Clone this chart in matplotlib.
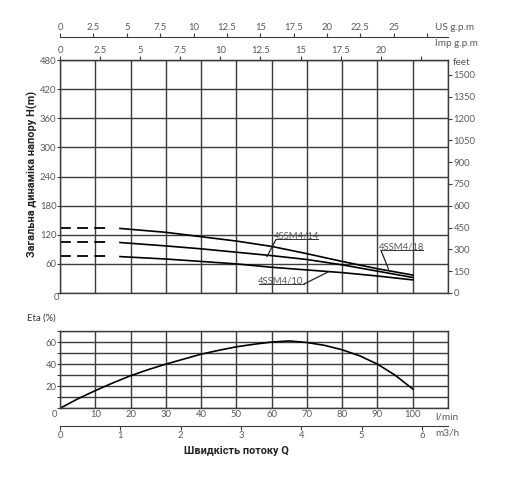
import matplotlib
matplotlib.use("Agg")
import matplotlib.pyplot as plt
import numpy as np

# ---- data ----
q_curve = [17, 30, 40, 50, 60, 70, 80, 90, 100]          # l/min
h_18 = [133, 125, 116, 107, 96, 81, 65, 50, 37]          # m
h_14 = [104, 97, 91, 84, 77, 69, 58, 45, 32]
h_10 = [75, 70, 65, 60, 53, 47.5, 42, 35, 27]
curve_names = ["4SSM4/18", "4SSM4/14", "4SSM4/10"]

q_eta = [0, 5, 10, 15, 20, 25, 30, 35, 40, 45, 50, 55, 60, 65, 70, 75, 80, 85, 90, 95, 100]
eta = [0, 8.5, 16, 23, 29.5, 35, 40, 44.5, 49, 52.5, 55.7, 58, 60, 61, 59.6, 57, 53, 47.5, 40, 30, 17.5]

h_ticks = [60, 120, 180, 240, 300, 360, 420, 480]
feet_ticks = [0, 150, 300, 450, 600, 750, 900, 1050, 1200, 1350, 1500]
us_ticks = [0, 2.5, 5, 7.5, 10, 12.5, 15, 17.5, 20, 22.5, 25, 27.5]
us_labels = ["0", "2.5", "5", "7.5", "10", "12.5", "15", "17.5", "20", "22.5", "25", ""]
imp_ticks = [0, 2.5, 5, 7.5, 10, 12.5, 15, 17.5, 20, 22.5]
imp_labels = ["0", "2.5", "5", "7.5", "10", "12.5", "15", "17.5", "20", ""]
lmin_ticks = [0, 10, 20, 30, 40, 50, 60, 70, 80, 90, 100, 110]
lmin_labels = ["", "10", "20", "30", "40", "50", "60", "70", "80", "90", "100", ""]
m3h_ticks = [0, 1, 2, 3, 4, 5, 6]
eta_ticks = [0, 10, 20, 30, 40, 50, 60, 70]
eta_labels = ["", "", "20", "", "40", "", "60", ""]

US_GPM = 3.785
IMP_GPM = 4.546
M3H = 17.1     # as drawn on the reference scale
FT = 3.34      # as drawn on the reference scale

W, H = 512, 486
GRID = "#3c3c3c"
TXT = "#5a5a5a"
FS = 6.8
FONT = "Lato"
BOLD = ["Roboto", "DejaVu Sans"]

plt.rcParams["font.family"] = [FONT, "DejaVu Sans"]

fig = plt.figure(figsize=(W / 100, H / 100), dpi=100)

def fx(px):
    return px / W

def fy(py):
    return 1 - py / H

ax = fig.add_axes([fx(60), fy(293), fx(388), 233 / H])
ax2 = fig.add_axes([fx(60), fy(408.3), fx(388), 77.3 / H])

for a in (ax, ax2):
    for s in a.spines.values():
        s.set_color(GRID)
        s.set_linewidth(1.0)

# ---- main head chart ----
ax.set_xlim(0, 110)
ax.set_ylim(0, 480)
ax.set_xticks(lmin_ticks)
ax.set_xticklabels([])
ax.tick_params(axis="x", length=0)
ax.set_yticks([0] + h_ticks)
ax.set_yticklabels([""] + [str(v) for v in h_ticks])
ax.tick_params(axis="y", length=2, width=0.8, color=GRID, pad=0.5, labelsize=FS, labelcolor=TXT)
ax.grid(True, color=GRID, linewidth=1.0)

for hv in (h_18, h_14, h_10):
    ax.plot([0, q_curve[0] - 2.5], [hv[0] + 1, hv[0] + 1], color="black", lw=1.3,
            dashes=(6, 3.5))
    ax.plot(q_curve, hv, color="black", lw=1.2)

axr = ax.twinx()
axr.set_ylim(0, 480 * FT)
axr.set_yticks(feet_ticks)
axr.tick_params(axis="y", length=3, width=0.8, color=GRID, pad=1, labelsize=FS, labelcolor=TXT)
for s in axr.spines.values():
    s.set_visible(False)

imp = ax.secondary_xaxis("top", functions=(lambda x: x / IMP_GPM, lambda x: x * IMP_GPM))
imp.set_xticks(imp_ticks)
imp.set_xticklabels(imp_labels)
imp.tick_params(length=3, width=0.8, color=GRID, pad=0.5, labelsize=FS, labelcolor=TXT)
imp.spines["top"].set_color(GRID)

us = ax.secondary_xaxis(1 + 23 / 233, functions=(lambda x: x / US_GPM, lambda x: x * US_GPM))
us.set_xticks(us_ticks)
us.set_xticklabels(us_labels)
us.tick_params(length=3, width=0.8, color=GRID, pad=0.5, labelsize=FS, labelcolor=TXT)
us.spines["top"].set_color(GRID)

fig.text(fx(435), fy(27.5), "US g.p.m", fontsize=FS + 0.4, color=TXT, ha="left", va="center")
fig.text(fx(435), fy(43.5), "Imp g.p.m", fontsize=FS + 0.4, color=TXT, ha="left", va="center")
fig.text(fx(453), fy(62.5), "feet", fontsize=FS + 0.4, color=TXT, ha="left", va="center")
fig.text(fx(56.5), fy(297), "0", fontsize=FS, color=TXT, ha="center", va="center")

fig.text(fx(32), fy(174), "Загальна динаміка напору H(m)", rotation=90, fontsize=7.9,
         fontweight="bold", color="#222222", ha="center", va="center", family=BOLD)

# curve labels with leaders (figure pixel positions)
lab = dict(fontsize=FS, color=TXT, ha="center", va="center")

def label(name, tx, ty, ux0, ux1, lx0, ly0, lx1, ly1):
    fig.text(fx(tx), fy(ty), name, **lab)
    fig.add_artist(plt.Line2D([fx(ux0), fx(ux1)], [fy(ty + 3.5), fy(ty + 3.5)],
                              color="#333333", lw=0.7))
    fig.add_artist(plt.Line2D([fx(lx0), fx(lx1)], [fy(ly0), fy(ly1)],
                              color="#222222", lw=0.9))

label(curve_names[1], 297, 236, 276, 318, 276, 239.5, 267, 256.5)
label(curve_names[0], 402, 247, 381, 423, 381, 250.5, 388.5, 269)
label(curve_names[2], 281, 280.5, 259, 304, 304, 284, 329, 271.5)

# ---- efficiency chart ----
ax2.set_xlim(0, 110)
ax2.set_ylim(0, 70)
ax2.set_xticks(lmin_ticks)
ax2.set_xticklabels(lmin_labels)
ax2.set_yticks(eta_ticks)
ax2.set_yticklabels(eta_labels)
ax2.tick_params(axis="x", length=0, pad=1.5, labelsize=FS, labelcolor=TXT)
ax2.tick_params(axis="y", length=2, width=0.8, color=GRID, pad=0.5, labelsize=FS, labelcolor=TXT)
ax2.grid(True, color=GRID, linewidth=1.0)
ax2.plot(q_eta, eta, color="black", lw=1.2)

m3 = ax2.secondary_xaxis(-17.4 / 77.3, functions=(lambda x: x / M3H, lambda x: x * M3H))
m3.set_xticks(m3h_ticks)
m3.tick_params(length=3, width=0.8, color=GRID, pad=1, labelsize=FS, labelcolor=TXT)
m3.spines["bottom"].set_color(GRID)

fig.text(fx(54), fy(414), "0", fontsize=FS, color=TXT, ha="center", va="center")
fig.text(fx(435), fy(416.5), "l/min", fontsize=FS + 0.4, color=TXT, ha="left", va="center")
fig.text(fx(435), fy(433), "m3/h", fontsize=FS + 0.4, color=TXT, ha="left", va="center")
fig.text(fx(41), fy(318), "Eta (%)", fontsize=FS, color="#333333", ha="center", va="center")
fig.text(fx(236.5), fy(451), "Швидкість потоку Q", fontsize=7.8, fontweight="bold",
         color="#222222", ha="center", va="center", family=BOLD)

fig.savefig("out.png", dpi=100, facecolor="white")
